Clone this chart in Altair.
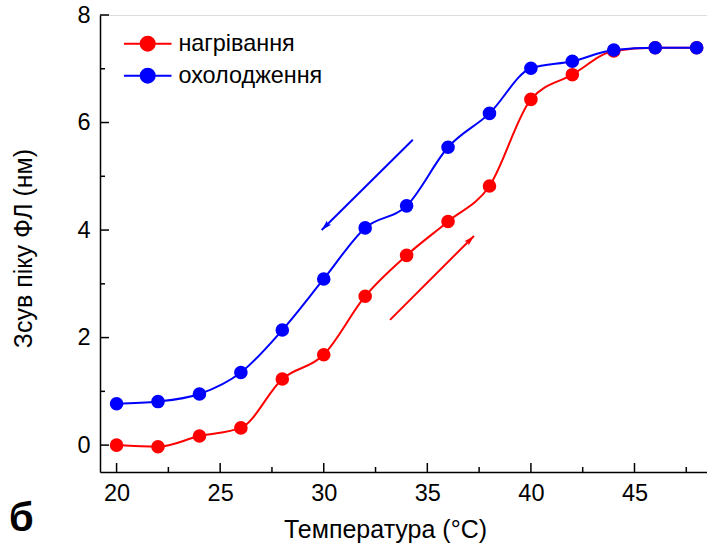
import altair as alt
import pandas as pd

temps = [20, 22, 24, 26, 28, 30, 32, 34, 36, 38, 40, 42, 44, 46, 48]
heating = [0.00, -0.03, 0.17, 0.32, 1.23, 1.68, 2.77, 3.53, 4.16, 4.82, 6.43, 6.89, 7.33, 7.39, 7.39]
cooling = [0.77, 0.81, 0.95, 1.35, 2.14, 3.09, 4.04, 4.45, 5.54, 6.17, 7.01, 7.14, 7.35, 7.39, 7.39]
series_names = ["нагрівання", "охолодження"]
series_colors = ["#FF0000", "#0000FF"]

# arrows (data units)
arrow_x1 = [34.3, 33.2]
arrow_y1 = [5.68, 2.33]
arrow_x2 = [29.9, 37.25]
arrow_y2 = [4.00, 3.89]
arrow_angle = [225, 45]
arrow_colors = ["#0000FF", "#FF0000"]

x_major = [20, 25, 30, 35, 40, 45]
x_minor = [22.5, 27.5, 32.5, 37.5, 42.5, 47.5]
y_major = [0, 2, 4, 6, 8]
y_minor = [1, 3, 5, 7]

W, H = 607, 457
FONT = "Liberation Sans"

rows = []
for t, h in zip(temps, heating):
    rows.append({"T": t, "v": h, "s": series_names[0]})
for t, c in zip(temps, cooling):
    rows.append({"T": t, "v": c, "s": series_names[1]})
df = pd.DataFrame(rows)

arrows = pd.DataFrame({"x1": arrow_x1, "y1": arrow_y1, "x2": arrow_x2, "y2": arrow_y2,
                       "a": arrow_angle, "c": arrow_colors})

xs = alt.Scale(domain=[19.2, 48.5], nice=False, zero=False)
ys = alt.Scale(domain=[-0.5, 8], nice=False, zero=False)
cs = alt.Scale(domain=series_names, range=series_colors)

xaxis = alt.Axis(values=x_major, ticks=False, grid=False, labelFlush=False,
                 title="Температура (°C)", domainColor="black", domainWidth=1.5,
                 labelFont=FONT, labelFontSize=23.5, labelColor="black", labelPadding=9,
                 titleFont=FONT, titleFontSize=25, titleColor="black", titleFontWeight="normal",
                 titlePadding=13, titleX=285)
yaxis = alt.Axis(values=y_major, ticks=False, grid=False,
                 title="Зсув піку ФЛ (нм)", domainColor="black", domainWidth=1.5,
                 labelFont=FONT, labelFontSize=23.5, labelColor="black", labelPadding=10,
                 titleFont=FONT, titleFontSize=25, titleColor="black", titleFontWeight="normal",
                 titlePadding=40, titleY=233)

legend_symbol = "M-3.4,0H3.4M-1,0A1,1 0 1,0 1,0A1,1 0 1,0 -1,0Z"
leg = alt.Legend(title=None, orient="none", legendX=36, legendY=17, padding=0,
                 symbolType=legend_symbol, symbolSize=196, symbolStrokeWidth=2,
                 labelFont=FONT, labelFontSize=23.4, labelColor="black", labelOffset=19,
                 rowPadding=7)

base = alt.Chart(df)
lines = base.mark_line(interpolate="monotone", strokeWidth=2).encode(
    x=alt.X("T:Q", scale=xs, axis=xaxis),
    y=alt.Y("v:Q", scale=ys, axis=yaxis),
    stroke=alt.Stroke("s:N", scale=cs, legend=leg),
    detail="s:N",
)
points = base.mark_point(filled=True, size=185, opacity=1, shape="circle").encode(
    x=alt.X("T:Q", scale=xs),
    y=alt.Y("v:Q", scale=ys),
    fill=alt.Fill("s:N", scale=cs, legend=leg),
)

arrow_lines = alt.Chart(arrows).mark_rule(strokeWidth=2).encode(
    x=alt.X("x1:Q", scale=xs), y=alt.Y("y1:Q", scale=ys),
    x2="x2:Q", y2="y2:Q",
    color=alt.Color("c:N", scale=None),
)
arrow_heads = alt.Chart(arrows).mark_point(
    shape="M0,0L-1,3.5L0,2.8L1,3.5Z", size=36, filled=True, opacity=1, strokeWidth=0
).encode(
    x=alt.X("x2:Q", scale=xs), y=alt.Y("y2:Q", scale=ys),
    angle=alt.Angle("a:Q", scale=None),
    color=alt.Color("c:N", scale=None),
)

xmaj = alt.Chart(pd.DataFrame({"t": x_major})).mark_rule(color="black", strokeWidth=1.5).encode(
    x=alt.X("t:Q", scale=xs), y=alt.value(H), y2=alt.value(H - 9))
xmin = alt.Chart(pd.DataFrame({"t": x_minor})).mark_rule(color="black", strokeWidth=1.5).encode(
    x=alt.X("t:Q", scale=xs), y=alt.value(H), y2=alt.value(H - 5))
ymaj = alt.Chart(pd.DataFrame({"t": y_major})).mark_rule(color="black", strokeWidth=1.5).encode(
    y=alt.Y("t:Q", scale=ys), x=alt.value(0), x2=alt.value(9))
ymin = alt.Chart(pd.DataFrame({"t": y_minor})).mark_rule(color="black", strokeWidth=1.5).encode(
    y=alt.Y("t:Q", scale=ys), x=alt.value(0), x2=alt.value(5))

panel = alt.Chart(pd.DataFrame({"l": ["б"]})).mark_text(
    font=FONT, fontSize=40, fontWeight="bold", align="left", baseline="alphabetic", color="black"
).encode(text="l:N", x=alt.value(-91), y=alt.value(516))

chart = alt.layer(xmaj, xmin, ymaj, ymin, arrow_lines, arrow_heads, lines, points, panel).properties(
    width=W, height=H,
    padding={"left": 100, "top": 15, "right": 0, "bottom": 77},
    autosize=alt.AutoSizeParams(type="none"),
).configure_view(stroke=None).configure(background="white")

chart.save("out.html", embed_options={"renderer": "svg", "actions": False})
